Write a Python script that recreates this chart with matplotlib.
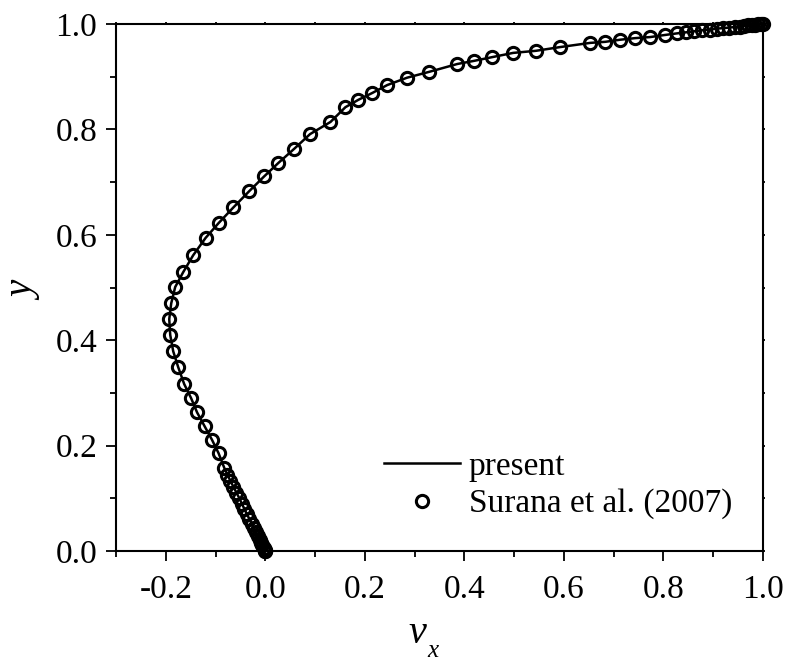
import numpy as np
import matplotlib
matplotlib.use('Agg')
import matplotlib.pyplot as plt
from matplotlib.ticker import MultipleLocator

plt.rcParams['font.family'] = ['Liberation Serif', 'DejaVu Serif']
plt.rcParams['axes.unicode_minus'] = False

# Surana et al. (2007), u-velocity along the vertical centreline
vx_ref = [0.0, -0.0005, -0.0015, -0.003, -0.006, -0.008, -0.011, -0.015, -0.019, -0.023,
          -0.027, -0.032, -0.037, -0.042, -0.047, -0.052, -0.058, -0.064, -0.070, -0.076,
          -0.082, -0.094, -0.107, -0.122, -0.137, -0.149, -0.163, -0.175, -0.185, -0.191,
          -0.193, -0.189, -0.181, -0.165, -0.145, -0.120, -0.094, -0.064, -0.032, -0.002,
          0.026, 0.058, 0.090, 0.131, 0.161, 0.187, 0.215, 0.245, 0.285, 0.329,
          0.386, 0.420, 0.456, 0.498, 0.544, 0.592, 0.653, 0.683, 0.713, 0.743,
          0.773, 0.803, 0.827, 0.845, 0.862, 0.878, 0.893, 0.907, 0.920, 0.932,
          0.943, 0.953, 0.962, 0.970, 0.978, 0.985, 0.991, 0.996, 1.0]
y_ref = [0.0, 0.001, 0.003, 0.006, 0.011, 0.016, 0.022, 0.029, 0.036, 0.044,
         0.052, 0.061, 0.070, 0.080, 0.090, 0.100, 0.111, 0.122, 0.133, 0.145,
         0.157, 0.186, 0.211, 0.237, 0.263, 0.290, 0.317, 0.349, 0.379, 0.410,
         0.440, 0.470, 0.501, 0.529, 0.561, 0.594, 0.622, 0.652, 0.683, 0.711,
         0.736, 0.763, 0.791, 0.814, 0.842, 0.856, 0.869, 0.884, 0.898, 0.909,
         0.924, 0.930, 0.937, 0.945, 0.949, 0.956, 0.964, 0.966, 0.970, 0.973,
         0.975, 0.979, 0.982, 0.984, 0.986, 0.988, 0.989, 0.991, 0.992, 0.993,
         0.994, 0.995, 0.996, 0.997, 0.998, 0.9985, 0.999, 0.9995, 1.0]

# present solution (same profile)
vx_present = vx_ref
y_present = y_ref

fig = plt.figure(figsize=(7.89, 6.64), dpi=100)
ax = fig.add_axes([0.147, 0.170, 0.820, 0.794])

ax.plot(vx_present, y_present, color='black', lw=1.8, label='present', clip_on=False, zorder=3)
ax.plot(vx_ref, y_ref, linestyle='none', marker='o', ms=8.8, mfc='none', mec='black',
        mew=2.2, label='Surana et al. (2007)', clip_on=False, zorder=4)

ax.set_xlim(-0.3, 1.0)
ax.set_ylim(0.0, 1.0)
ax.set_xticks([-0.2, 0.0, 0.2, 0.4, 0.6, 0.8, 1.0])
ax.set_yticks([0.0, 0.2, 0.4, 0.6, 0.8, 1.0])
ax.xaxis.set_minor_locator(MultipleLocator(0.1))
ax.yaxis.set_minor_locator(MultipleLocator(0.1))
ax.xaxis.set_major_formatter(plt.FuncFormatter(lambda v, p: '%.1f' % v))
ax.yaxis.set_major_formatter(plt.FuncFormatter(lambda v, p: '%.1f' % v))

for s in ax.spines.values():
    s.set_linewidth(1.5)
ax.tick_params(which='major', direction='out', length=7.5, width=1.3, labelsize=24)
ax.tick_params(which='minor', direction='out', length=4.5, width=1.3)
ax.tick_params(axis='x', which='major', pad=9)
ax.tick_params(axis='y', which='major', pad=6)
ax.tick_params(which='both', top=True, right=True, labeltop=False, labelright=False)
# tiny ticks on top / right
for tl in ax.xaxis.get_majorticklines()[1::2] + ax.xaxis.get_minorticklines()[1::2]:
    tl.set_markersize(1.5)
for tl in ax.yaxis.get_majorticklines()[1::2] + ax.yaxis.get_minorticklines()[1::2]:
    tl.set_markersize(1.5)

# axis labels (italic v with a low subscript x, as in the original)
fig.text(408 / 789, 1 - 643 / 664, 'v', fontsize=29, fontstyle='italic',
         ha='left', va='baseline')
fig.text(427 / 789, 1 - 657 / 664, 'x', fontsize=18, fontstyle='italic',
         ha='left', va='baseline')
fig.text(25 / 789, 1 - 291 / 664, 'y', fontsize=28, fontstyle='italic',
         ha='center', va='center', rotation=90)

leg = ax.legend(loc='lower left', bbox_to_anchor=(0.414, 0.060), frameon=False, fontsize=24,
                handlelength=2.3, handletextpad=0.25, labelspacing=0.2, borderpad=0,
                borderaxespad=0)

fig.savefig('out.png', dpi=100)
